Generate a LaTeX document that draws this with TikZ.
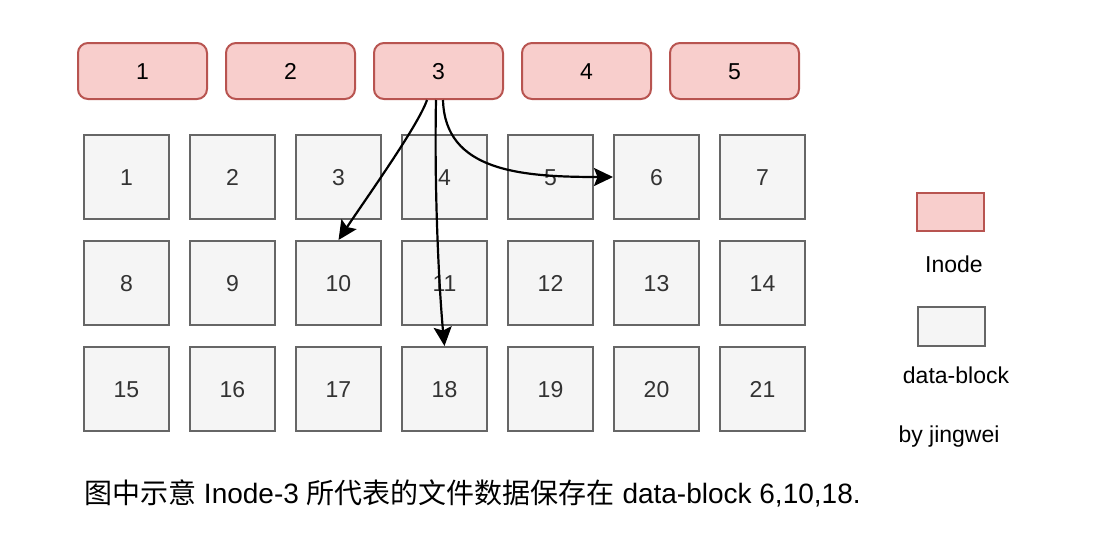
\documentclass[tikz,border=0pt]{standalone}
\usepackage{fontspec}
\setmainfont{Liberation Sans}
\newfontfamily\cjk{Noto Sans CJK SC}
\usetikzlibrary{arrows.meta,calc}
\definecolor{inodefill}{HTML}{F8CECC}
\definecolor{inodedraw}{HTML}{B85450}
\definecolor{blockfill}{HTML}{F5F5F5}
\definecolor{blockdraw}{HTML}{666666}
\definecolor{blocktext}{HTML}{333333}
\tikzset{
  inode/.style={draw=inodedraw, fill=inodefill, line width=2pt, rounded corners=10pt,
    minimum width=129pt, minimum height=56pt, inner sep=0pt, text=black,
    text height=16.5pt, text depth=0pt,
    font=\fontsize{23}{28}\selectfont},
  dblock/.style={draw=blockdraw, fill=blockfill, line width=2pt,
    minimum width=85pt, minimum height=84pt, inner sep=0pt, text=blocktext,
    text height=16.5pt, text depth=0pt,
    font=\fontsize{23}{28}\selectfont},
  legendinode/.style={draw=inodedraw, fill=inodefill, line width=2pt,
    minimum width=67pt, minimum height=38pt, inner sep=0pt},
  legendblock/.style={draw=blockdraw, fill=blockfill, line width=2pt,
    minimum width=67pt, minimum height=39pt, inner sep=0pt},
  lbl/.style={inner sep=0pt, anchor=base, font=\fontsize{23}{28}\selectfont},
  link/.style={draw=black, line width=2.2pt, -{Stealth[length=19pt,width=18pt,inset=3.5pt]}},
}
\begin{document}
\begin{tikzpicture}[x=1pt,y=-1pt]
\useasboundingbox (0,0) rectangle (1096,544);
% inodes
\foreach \i/\x in {1/142.5,2/290.5,3/438.5,4/586.5,5/734.5}
  \node[inode] (i\i) at (\x,71) {\i};
% data blocks
\foreach \c/\x in {1/126.5,2/232.5,3/338.5,4/444.5,5/550.5,6/656.5,7/762.5}{
  \pgfmathtruncatemacro{\a}{\c}
  \pgfmathtruncatemacro{\b}{\c+7}
  \pgfmathtruncatemacro{\d}{\c+14}
  \node[dblock] (d\a) at (\x,177) {\a};
  \node[dblock] (d\b) at (\x,283) {\b};
  \node[dblock] (d\d) at (\x,389) {\d};
}
% arrows
\draw[link] ($(i3.south)+(-11.5,0)$) .. controls ($(i3.south)+(-20.5,26)$) and ($(d10.north)+(26.5,-40)$) .. (d10.north);
\draw[link] ($(i3.south)+(-2.5,0)$) .. controls ($(i3.south)+(-4.5,101)$) and ($(d18.north)+(-4.5,-46)$) .. (d18.north);
\draw[link] ($(i3.south)+(4.5,0)$) .. controls ($(i3.south)+(6.5,71)$) and ($(d6.west)+(-93,0)$) .. (d6.west);
% legend
\node[legendinode] (li) at (950.5,212) {};
\node[lbl] (lit) at (954,272) {Inode};
\node[legendblock] (lb) at (951.5,326.5) {};
\node[lbl] (lbt) at (956,383) {data-block};
\node[lbl] (by) at (949,442) {by jingwei};
% caption
\node[inner sep=0pt, anchor=base west, font=\fontsize{28}{33}\selectfont] (cap) at (84,503)
  {{\cjk 图中示意} Inode-3 {\cjk 所代表的文件数据保存在} data-block 6,10,18.};
\end{tikzpicture}
\end{document}
